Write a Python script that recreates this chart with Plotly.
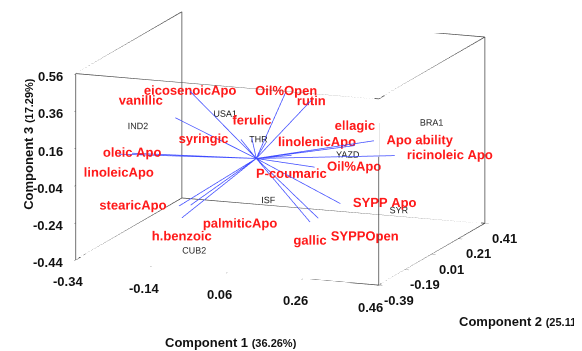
import plotly.graph_objects as go

# ---- data ----
var_names = ["eicosenoicApo", "vanillic", "Oil%Open", "rutin", "ferulic", "syringic",
             "linolenicApo", "ellagic", "Apo ability", "ricinoleic Apo", "Oil%Apo",
             "P-coumaric", "SYPP Apo", "SYPPOpen", "gallic", "palmiticApo",
             "h.benzoic", "stearicApo", "oleic Apo", "linoleicApo"]
var_c1 = [-0.210, -0.196, 0.061, 0.110, -0.040, -0.023, 0.008, 0.225, 0.293, 0.383, 0.147,
          0.100, 0.257, 0.216, 0.177, -0.138, -0.144, -0.134, -0.223, -0.258]
var_c2 = [0.10, -0.05, 0.05, 0.10, 0.08, -0.05, 0.05, 0.10, 0.05, -0.05, 0.02,
          -0.02, -0.10, -0.15, -0.10, -0.10, -0.15, -0.20, -0.30, -0.30]
var_c3 = [0.284, 0.206, 0.349, 0.289, 0.072, 0.119, 0.066, 0.066, 0.124, 0.101, -0.030,
          0.042, -0.157, -0.222, -0.270, -0.232, -0.281, -0.195, 0.115, 0.104]
var_textpos = ["middle center", "top left", "middle center", "middle center", "top center",
               "middle left", "middle right", "top center", "middle right", "middle right",
               "middle right", "bottom center", "middle right", "bottom right", "bottom center",
               "bottom right", "bottom center", "middle left", "middle center", "bottom center"]

obs_names = ["IND2", "USA1", "THR", "BRA1", "YAZD", "ISF", "SYR", "CUB2"]
obs_c1 = [-0.277, -0.117, -0.065, 0.358, 0.206, -0.038, 0.306, -0.094]
obs_c2 = [-0.10, 0.10, 0.20, 0.30, 0.10, 0.20, 0.20, -0.20]
obs_c3 = [0.170, 0.180, 0.010, 0.130, 0.015, -0.312, -0.308, -0.426]

x_ticks = [-0.34, -0.14, 0.06, 0.26, 0.46]
y_ticks = [-0.39, -0.19, 0.01, 0.21, 0.41]
z_ticks = [-0.44, -0.24, -0.04, 0.16, 0.36, 0.56]

x_title = ("Component 1", "(36.26%)")
y_title = ("Component 2", "(25.11%)")
z_title = ("Component 3", "(17.29%)")

# ---- build figure ----
lx, ly, lz = [], [], []
for a, b, c in zip(var_c1, var_c2, var_c3):
    lx += [0, a, None]
    ly += [0, b, None]
    lz += [0, c, None]

# box outline along the axis ranges
xr = [x_ticks[0], x_ticks[-1]]
yr = [y_ticks[0], y_ticks[-1]]
zr = [z_ticks[0], z_ticks[-1]]
bx, by, bz = [], [], []
for y0 in yr:
    for z0 in zr:
        bx += [xr[0], xr[1], None]; by += [y0, y0, None]; bz += [z0, z0, None]
for x0 in xr:
    for z0 in zr:
        bx += [x0, x0, None]; by += [yr[0], yr[1], None]; bz += [z0, z0, None]
for x0 in xr:
    for y0 in yr:
        bx += [x0, x0, None]; by += [y0, y0, None]; bz += [zr[0], zr[1], None]

FONT = "Liberation Sans"
TICKFONT = dict(family=FONT, size=13, color="#111111")

fig = go.Figure()
fig.add_trace(go.Scatter3d(x=bx, y=by, z=bz, mode="lines",
                           line=dict(color="#444444", width=1.5),
                           connectgaps=False, hoverinfo="skip", showlegend=False))
fig.add_trace(go.Scatter3d(x=lx, y=ly, z=lz, mode="lines",
                           line=dict(color="#3f4cff", width=1.5),
                           connectgaps=False, hoverinfo="skip", showlegend=False))
fig.add_trace(go.Scatter3d(x=var_c1, y=var_c2, z=var_c3, mode="text", text=var_names,
                           textposition=var_textpos,
                           textfont=dict(color="#ff1a1a", size=13, family=FONT, weight="bold"),
                           hoverinfo="skip", showlegend=False))
fig.add_trace(go.Scatter3d(x=obs_c1, y=obs_c2, z=obs_c3, mode="text", text=obs_names,
                           textposition="middle center",
                           textfont=dict(color="#222222", size=9, family=FONT),
                           hoverinfo="skip", showlegend=False))

axis_common = dict(showgrid=False, zeroline=False, showbackground=False,
                   showline=False, ticks="outside", ticklen=4, tickcolor="#555555",
                   tickmode="array", showspikes=False, title=dict(text=""),
                   showticklabels=False)

# tick labels as scene annotations anchored at the tick positions on the box edges
tick_ann = []
for v in x_ticks:
    tick_ann.append(dict(x=v, y=yr[0], z=zr[0], text=f"<b>{v:.2f}</b>", showarrow=False,
                         xanchor="center", yanchor="middle", xshift=-8, yshift=-22,
                         font=TICKFONT))
for v in y_ticks:
    tick_ann.append(dict(x=xr[1], y=v, z=zr[0], text=f"<b>{v:.2f}</b>", showarrow=False,
                         xanchor="center", yanchor="middle", xshift=20, yshift=-15,
                         font=TICKFONT))
for v in z_ticks:
    tick_ann.append(dict(x=xr[0], y=yr[0], z=v, text=f"<b>{v:.2f}</b>", showarrow=False,
                         xanchor="right", yanchor="middle", xshift=-11, yshift=-3,
                         font=TICKFONT))

def title_html(t):
    return "<b>" + t[0] + " <span style='font-size:11px'>" + t[1] + "</span></b>"

fig.update_layout(
    width=582, height=351,
    margin=dict(l=0, r=0, t=0, b=0),
    paper_bgcolor="white",
    scene=dict(
        domain=dict(x=[0.0, 1.0], y=[0.0, 1.0]),
        xaxis=dict(axis_common, range=xr, tickvals=x_ticks),
        yaxis=dict(axis_common, range=yr, tickvals=y_ticks),
        zaxis=dict(axis_common, range=zr, tickvals=z_ticks),
        aspectmode="manual",
        aspectratio=dict(x=1.846, y=1.708, z=1.088),
        camera=dict(projection=dict(type="orthographic"),
                    eye=dict(x=0.805, y=-1.827, z=0.246),
                    up=dict(x=-0.078, y=0.2063, z=0.9756),
                    center=dict(x=0.115, y=-0.0034, z=-0.195)),
        annotations=tick_ann,
    ),
    annotations=[
        dict(text=title_html(x_title), x=0.383, y=0.046, xref="paper", yref="paper",
             xanchor="center", yanchor="middle",
             showarrow=False, font=dict(family=FONT, size=13, color="#111111")),
        dict(text=title_html(y_title), x=0.888, y=0.108, xref="paper", yref="paper",
             xanchor="center", yanchor="middle",
             showarrow=False, font=dict(family=FONT, size=13, color="#111111")),
        dict(text=title_html(z_title), x=0.036, y=0.613, xref="paper", yref="paper",
             xanchor="center", yanchor="middle",
             showarrow=False, textangle=-90, font=dict(family=FONT, size=13, color="#111111")),
    ],
)

fig.write_html("out.html")
